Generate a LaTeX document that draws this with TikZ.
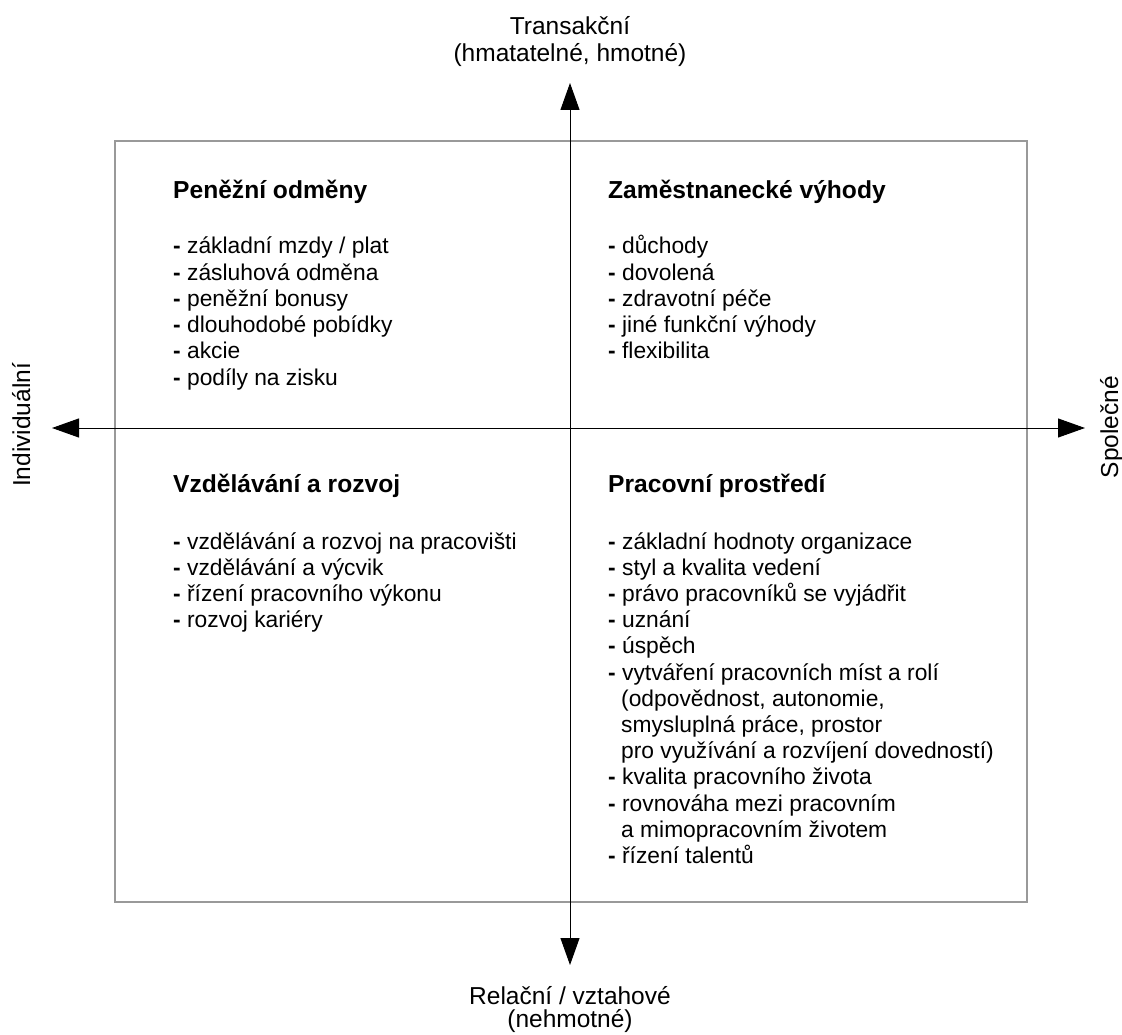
\documentclass[tikz,border=0pt]{standalone}
\usepackage{fontspec}
\setmainfont{Liberation Sans}
\usetikzlibrary{arrows.meta}
\tikzset{
  item/.style={anchor=base west, inner sep=0pt, font=\fontsize{22.8}{26}\selectfont},
  head/.style={anchor=base west, inner sep=0pt, font=\fontsize{24.6}{28}\selectfont\bfseries},
  axislabel/.style={anchor=base, inner sep=0pt, font=\fontsize{24.5}{27}\selectfont},
  axis/.style={line width=1pt, -{Triangle[length=27pt,width=19pt]}},
  frame/.style={draw=black!40, line width=1.3pt}
}
\newcommand\mk{\textbf{-} }
\newcommand\cont{\hspace*{13pt}}
\begin{document}
\begin{tikzpicture}[x=1pt,y=-1pt]
  \useasboundingbox (0,0) rectangle (1122,1035);

  % outer frame
  \draw[frame] (115,141) rectangle (1027,902);

  % axes
  \coordinate (O) at (570,428);
  \coordinate (N) at (570,83);
  \coordinate (S) at (570,965);
  \coordinate (W) at (52,428);
  \coordinate (E) at (1085,428);
  \draw[axis] (O) -- (N);
  \draw[axis] (O) -- (S);
  \draw[axis] (O) -- (W);
  \draw[axis] (O) -- (E);

  % axis labels
  \node[axislabel] (top1) at (570,35) {Transakční};
  \node[axislabel] (top2) at (570,62) {(hmatatelné, hmotné)};
  \node[axislabel] (bot1) at (570,1004) {Relační / vztahové};
  \node[axislabel] (bot2) at (570,1027) {(nehmotné)};
  \node[axislabel, rotate=90] (left) at (30,425) {Individuální};
  \node[axislabel, rotate=90] (right) at (1118,427) {Společné};

  % quadrant headings
  \node[head] (hTL) at (173,199) {Peněžní odměny};
  \node[head] (hTR) at (608,199) {Zaměstnanecké výhody};
  \node[head] (hBL) at (173,492) {Vzdělávání a rozvoj};
  \node[head] (hBR) at (608,492) {Pracovní prostředí};

  % quadrant lists
  \foreach \t [count=\i from 0] in {
      {\mk základní mzdy / plat},
      {\mk zásluhová odměna},
      {\mk peněžní bonusy},
      {\mk dlouhodobé pobídky},
      {\mk akcie},
      {\mk podíly na zisku}}
    \node[item] (tl-\i) at (173,254+26.2*\i) {\t};

  \foreach \t [count=\i from 0] in {
      {\mk důchody},
      {\mk dovolená},
      {\mk zdravotní péče},
      {\mk jiné funkční výhody},
      {\mk flexibilita}}
    \node[item] (tr-\i) at (608,254+26.2*\i) {\t};

  \foreach \t [count=\i from 0] in {
      {\mk vzdělávání a rozvoj na pracovišti},
      {\mk vzdělávání a výcvik},
      {\mk řízení pracovního výkonu},
      {\mk rozvoj kariéry}}
    \node[item] (bl-\i) at (173,549+26.2*\i) {\t};

  \foreach \t [count=\i from 0] in {
      {\mk základní hodnoty organizace},
      {\mk styl a kvalita vedení},
      {\mk právo pracovníků se vyjádřit},
      {\mk uznání},
      {\mk úspěch},
      {\mk vytváření pracovních míst a rolí},
      {\cont(odpovědnost, autonomie,},
      {\cont smysluplná práce, prostor},
      {\cont pro využívání a rozvíjení dovedností)},
      {\mk kvalita pracovního života},
      {\mk rovnováha mezi pracovním},
      {\cont a mimopracovním životem},
      {\mk řízení talentů}}
    \node[item] (br-\i) at (608,549+26.2*\i) {\t};
\end{tikzpicture}
\end{document}
